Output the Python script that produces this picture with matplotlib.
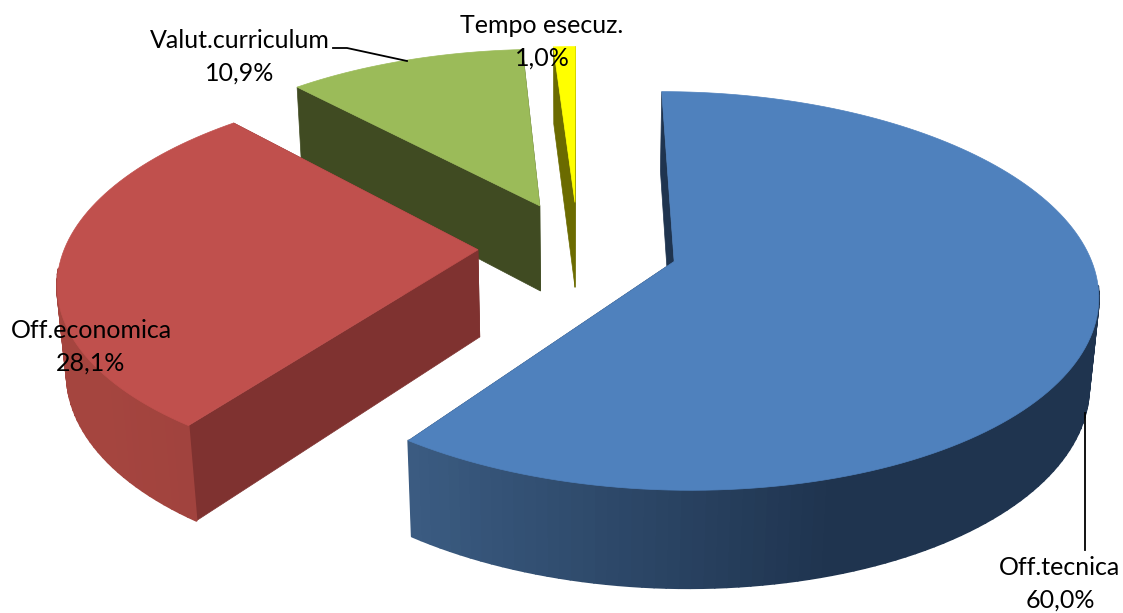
import numpy as np
import matplotlib
matplotlib.use('Agg')
import matplotlib.pyplot as plt
from matplotlib.patches import Polygon

labels = ['Off.tecnica', 'Off.economica', 'Valut.curriculum', 'Tempo esecuz.']
values = [60.0, 28.1, 10.9, 1.0]

top_colors = ['#4F81BD', '#C0504D', '#9BBB59', '#FFFF00']
face_colors = ['#1F344F', '#7F3230', '#404B22', '#6B6B00']
rim_left = ['#42668F', '#A5453F', '#404B22', '#6B6B00']
rim_right = ['#1F344F', '#8F3B38', '#404B22', '#6B6B00']

# pie geometry, in screen pixels
cx, cy = 578, 247
R = 413
explode = 100
height = 100
tilt = np.radians(27.5)
D = 2500
plt.rcParams['font.family'] = ['Lato', 'DejaVu Sans']


def project(ang, r, z, off):
    # ang clockwise from the top, z<0 is down
    X = r * np.sin(ang) + off[0]
    Y = r * np.cos(ang) + off[1]
    s = D / (D + Y * np.cos(tilt) - z * np.sin(tilt))
    return np.column_stack([cx + X * s, cy - (Y * np.sin(tilt) + z * np.cos(tilt)) * s])


def lerp_color(c1, c2, t):
    a = np.array(matplotlib.colors.to_rgb(c1))
    b = np.array(matplotlib.colors.to_rgb(c2))
    return a + (b - a) * t


fig = plt.figure(figsize=(11.23, 6.13), dpi=100)
ax = fig.add_axes([0, 0, 1, 1])
ax.set_xlim(0, 1123)
ax.set_ylim(613, 0)
ax.axis('off')

edges = np.cumsum([0] + values) / sum(values) * 2 * np.pi
order = [3, 2, 1, 0]
z = 0
for i in order:
    a0, a1 = edges[i], edges[i + 1]
    mid = (a0 + a1) / 2
    off = (explode * np.sin(mid), explode * np.cos(mid))
    ang = np.linspace(a0, a1, max(int((a1 - a0) * 40), 4))
    top_arc = project(ang, R, 0, off)
    bot_arc = project(ang, R, -height, off)
    apex_top = project(np.array([0.0]), 0, 0, off)
    apex_bot = project(np.array([0.0]), 0, -height, off)

    # cut faces
    for k in [0, -1]:
        pts = np.vstack([apex_top, top_arc[k], bot_arc[k], apex_bot])
        ax.add_patch(Polygon(pts, fc=face_colors[i], ec=face_colors[i], lw=0.5, zorder=z))
    z += 1
    # outer wall, darker to the right; the back part is hidden anyway
    for k in range(len(ang) - 1):
        if np.cos(ang[k]) > -0.1:
            continue
        t = np.clip((np.sin(ang[k]) + 0.8) / 1.1, 0, 1)
        col = lerp_color(rim_left[i], rim_right[i], t)
        pts = np.vstack([top_arc[k], top_arc[k + 1], bot_arc[k + 1], bot_arc[k]])
        ax.add_patch(Polygon(pts, fc=col, ec=col, lw=1.5, joinstyle='round', zorder=z))
    z += 1
    ax.add_patch(Polygon(np.vstack([apex_top, top_arc]), fc=top_colors[i], ec=top_colors[i], lw=0.5, zorder=z))
    z += 1

label_pos = [(1060, 584), (91, 347), (240, 57), (542, 42)]
for lab, val, pos in zip(labels, values, label_pos):
    txt = lab + '\n' + ('%.1f%%' % val).replace('.', ',')
    ax.text(pos[0], pos[1], txt, ha='center', va='center', fontsize=18, color='black',
            linespacing=1.5, zorder=100)

# leader lines
ax.plot([333, 347, 407], [48, 48, 61], color='black', lw=1.3, zorder=99)
ax.plot([1084.5, 1084.5], [413, 550], color='black', lw=1.3, zorder=99)

fig.savefig('out.png', dpi=100)
